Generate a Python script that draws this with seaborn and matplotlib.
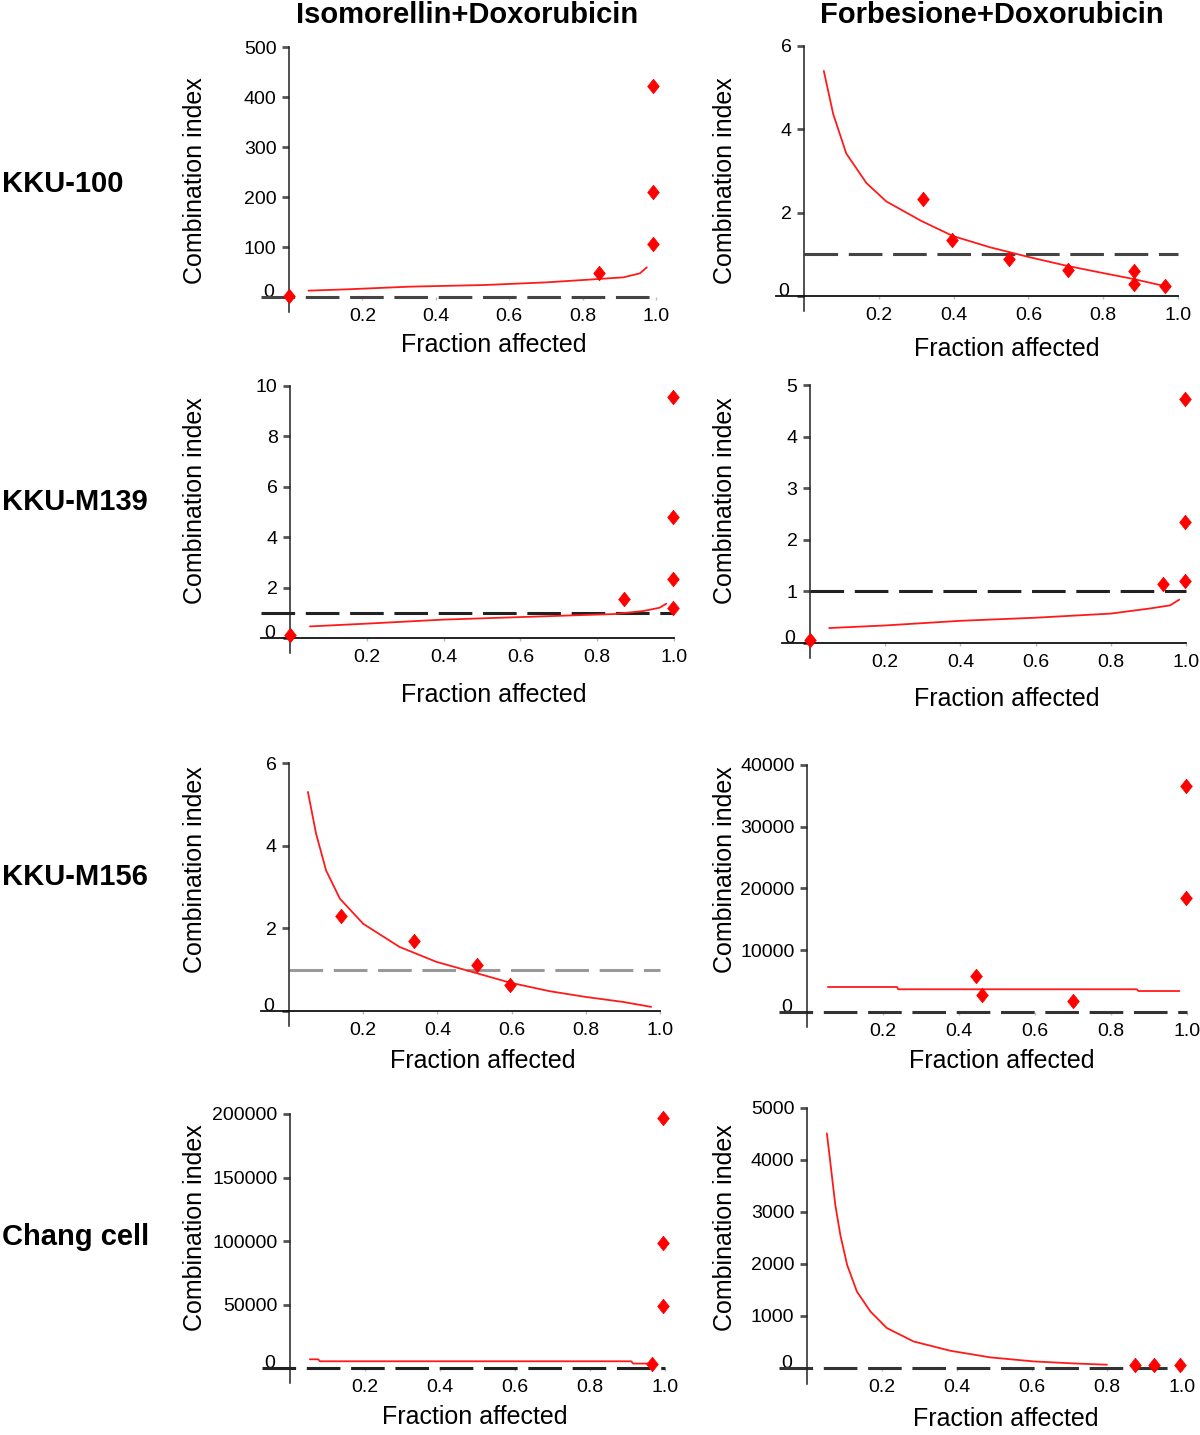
import matplotlib
matplotlib.use("Agg")
import matplotlib.pyplot as plt
import matplotlib.transforms as mtransforms
import seaborn as sns

sns.set_theme(style="ticks")
plt.rcParams["font.family"] = ["Liberation Sans", "DejaVu Sans"]
plt.rcParams["text.color"] = "black"
plt.rcParams["axes.labelcolor"] = "black"

W, H = 1200, 1435

col_titles = ["Isomorellin+Doxorubicin", "Forbesione+Doxorubicin"]
row_labels = ["KKU-100", "KKU-M139", "KKU-M156", "Chang cell"]
x_ticks = [0.2, 0.4, 0.6, 0.8, 1.0]
x_tick_labels = ["0.2", "0.4", "0.6", "0.8", "1.0"]
ci_ref = 1.0

# KKU-100 / Isomorellin+Doxorubicin
iso100_fa = [0.0, 0.846, 0.993, 0.993, 0.993]
iso100_ci = [2, 49, 423, 210, 106]
iso100_curve_fa = [0.053, 0.157, 0.33, 0.534, 0.702, 0.802, 0.911, 0.956, 0.975]
iso100_curve_ci = [12.7, 15.3, 20.7, 24, 29.3, 34, 39.3, 47.3, 59.3]
iso100_yticks = [0, 100, 200, 300, 400, 500]

# KKU-100 / Forbesione+Doxorubicin
for100_fa = [0.317, 0.396, 0.548, 0.707, 0.882, 0.882, 0.964]
for100_ci = [2.32, 1.35, 0.90, 0.63, 0.59, 0.28, 0.25]
for100_curve_fa = [0.053, 0.078, 0.113, 0.167, 0.22, 0.314, 0.398, 0.497, 0.599, 0.70, 0.80, 0.88, 0.978]
for100_curve_ci = [5.40, 4.37, 3.42, 2.71, 2.27, 1.80, 1.44, 1.17, 0.94, 0.73, 0.55, 0.41, 0.21]
for100_yticks = [0, 2, 4, 6]

# KKU-M139 / Isomorellin+Doxorubicin
iso139_fa = [0.0, 0.87, 0.997, 0.997, 0.997, 0.997]
iso139_ci = [0.1, 1.54, 9.56, 4.80, 2.36, 1.21]
iso139_curve_fa = [0.052, 0.2, 0.4, 0.6, 0.8, 0.845, 0.92, 0.962, 0.98]
iso139_curve_ci = [0.46, 0.57, 0.73, 0.83, 0.93, 0.95, 1.07, 1.2, 1.36]
iso139_yticks = [0, 2, 4, 6, 8, 10]

# KKU-M139 / Forbesione+Doxorubicin
for139_fa = [0.0, 0.939, 0.998, 0.998, 0.998]
for139_ci = [0.06, 1.15, 4.73, 2.34, 1.20]
for139_curve_fa = [0.051, 0.2, 0.4, 0.6, 0.8, 0.905, 0.958, 0.982]
for139_curve_ci = [0.29, 0.34, 0.43, 0.49, 0.57, 0.67, 0.73, 0.84]
for139_yticks = [0, 1, 2, 3, 4, 5]

# KKU-M156 / Isomorellin+Doxorubicin
iso156_fa = [0.14, 0.338, 0.507, 0.597]
iso156_ci = [2.30, 1.69, 1.11, 0.64]
iso156_curve_fa = [0.051, 0.073, 0.10, 0.137, 0.20, 0.298, 0.397, 0.496, 0.594, 0.702, 0.80, 0.90, 0.976]
iso156_curve_ci = [5.30, 4.29, 3.40, 2.72, 2.11, 1.55, 1.19, 0.94, 0.69, 0.48, 0.34, 0.22, 0.10]
iso156_yticks = [0, 2, 4, 6]

# KKU-M156 / Forbesione+Doxorubicin
for156_fa = [0.446, 0.46, 0.70, 0.998, 0.998]
for156_ci = [5800, 2700, 1780, 36600, 18400]
for156_curve_fa = [0.055, 0.237, 0.24, 0.868, 0.872, 0.98]
for156_curve_ci = [4050, 4050, 3680, 3680, 3400, 3400]
for156_yticks = [0, 10000, 20000, 30000, 40000]

# Chang cell / Isomorellin+Doxorubicin
isochang_fa = [0.964, 0.995, 0.995, 0.995]
isochang_ci = [3500, 197000, 98500, 48600]
isochang_curve_fa = [0.053, 0.075, 0.08, 0.91, 0.915, 0.97]
isochang_curve_ci = [6850, 6850, 5300, 5300, 3500, 3500]
isochang_yticks = [0, 50000, 100000, 150000, 200000]

# Chang cell / Forbesione+Doxorubicin
forchang_fa = [0.874, 0.924, 0.994]
forchang_ci = [50, 50, 50]
forchang_curve_fa = [0.053, 0.062, 0.0755, 0.0889, 0.107, 0.133, 0.169, 0.213, 0.284, 0.382, 0.489, 0.604, 0.711, 0.80]
forchang_curve_ci = [4510, 3966, 3134, 2559, 1983, 1471, 1087, 768, 511, 332, 204, 127, 88, 63]
forchang_yticks = [0, 1000, 2000, 3000, 4000, 5000]

panels = [
    (iso100_fa, iso100_ci, iso100_curve_fa, iso100_curve_ci, iso100_yticks),
    (for100_fa, for100_ci, for100_curve_fa, for100_curve_ci, for100_yticks),
    (iso139_fa, iso139_ci, iso139_curve_fa, iso139_curve_ci, iso139_yticks),
    (for139_fa, for139_ci, for139_curve_fa, for139_curve_ci, for139_yticks),
    (iso156_fa, iso156_ci, iso156_curve_fa, iso156_curve_ci, iso156_yticks),
    (for156_fa, for156_ci, for156_curve_fa, for156_curve_ci, for156_yticks),
    (isochang_fa, isochang_ci, isochang_curve_fa, isochang_curve_ci, isochang_yticks),
    (forchang_fa, forchang_ci, forchang_curve_fa, forchang_curve_ci, forchang_yticks),
]

# pixel layout: origin x, px per unit fa, origin y, top tick y, ylabel (x, y), xlabel (x, y),
# dashed line start, solid x axis, dashed colour
layout = [
    (289, 367, 297, 47, (207, 181), (494, 333), -0.075, False, "#444444"),
    (804, 374, 296, 46, (737, 181), (1007, 337), 0.0, True, "#444444"),
    (290, 384, 638, 386, (207, 501), (494, 683), -0.075, True, "#222222"),
    (810, 376, 643, 385, (737, 501), (1007, 687), 0.0, True, "#222222"),
    (289, 371, 1011, 763, (207, 870), (483, 1049), 0.0, True, "#999999"),
    (807, 380, 1012, 765, (737, 870), (1002, 1049), -0.075, False, "#333333"),
    (290, 375, 1368, 1114, (207, 1228), (475, 1405), -0.075, False, "#222222"),
    (807, 375, 1368, 1108, (737, 1228), (1006, 1407), -0.075, False, "#333333"),
]

diamond = [(0, 1), (0.8, 0), (0, -1), (-0.8, 0), (0, 1)]

fig = plt.figure(figsize=(W / 100, H / 100), dpi=100)
lift = mtransforms.ScaledTranslation(-2 / 72, 5 / 72, fig.dpi_scale_trans)

for (fa, ci, cfa, cci, yticks), lay in zip(panels, layout):
    x0, unit, y0, ytop, ylab, xlab, dash_start, solid, dash_col = lay
    top = yticks[-1]
    span = y0 - ytop
    pad = 0.06 * span
    left = x0 - 0.075 * unit
    right = x0 + 1.03 * unit
    ax = fig.add_axes([left / W, 1 - (y0 + pad) / H, (right - left) / W, (span + pad) / H])
    ax.set_xlim(-0.075, 1.03)
    ax.set_ylim(-0.06 * top, top)
    ax.patch.set_alpha(0)

    ax.plot([dash_start, 1.0], [ci_ref, ci_ref], color=dash_col, lw=2.2,
            ls=(0, (11, 3.5)), zorder=1)
    sns.lineplot(x=cfa, y=cci, ax=ax, color="#ff1a1a", lw=1.3, estimator=None,
                 sort=False, zorder=2)
    sns.scatterplot(x=fa, y=ci, ax=ax, color="#ff0000", marker=diamond, s=110,
                    edgecolor="#ff0000", linewidth=0.5, zorder=3, clip_on=False)

    for s in ["top", "right"]:
        ax.spines[s].set_visible(False)
    ax.spines["left"].set_position(("data", 0))
    ax.spines["left"].set_color("#222222")
    ax.spines["left"].set_linewidth(1.1)
    ax.spines["bottom"].set_position(("data", 0))
    ax.spines["bottom"].set_bounds(-0.075, 1.0)
    ax.spines["bottom"].set_color("#111111")
    ax.spines["bottom"].set_linewidth(1.3)
    ax.spines["bottom"].set_visible(solid)

    ax.set_yticks(yticks)
    ax.set_yticklabels([str(v) for v in yticks])
    ax.set_xticks(x_ticks)
    ax.set_xticklabels(x_tick_labels)
    ax.tick_params(axis="y", direction="out", length=5, width=2, color="#555555",
                   labelsize=14, pad=4, labelcolor="black")
    ax.tick_params(axis="x", direction="out", length=2, width=1, color="#bbbbbb",
                   labelsize=14, pad=6, labelcolor="black")
    zero_label = ax.get_yticklabels()[0]
    zero_label.set_transform(zero_label.get_transform() + lift)

    ax.set_ylabel("Combination index", fontsize=18, color="black")
    ax.yaxis.set_label_coords(ylab[0] / W, 1 - ylab[1] / H, transform=fig.transFigure)
    ax.set_xlabel("Fraction affected", fontsize=18, color="black")
    ax.xaxis.set_label_coords(xlab[0] / W, 1 - xlab[1] / H, transform=fig.transFigure)

fig.text(467 / W, 1 - 15 / H, col_titles[0], ha="center", va="center",
         fontsize=21, fontweight="bold", color="black")
fig.text(992 / W, 1 - 15 / H, col_titles[1], ha="center", va="center",
         fontsize=21, fontweight="bold", color="black")
for lab, yc in zip(row_labels, [184, 502, 877, 1237]):
    fig.text(2 / W, 1 - yc / H, lab, ha="left", va="center", fontsize=21,
             fontweight="bold", color="black")

fig.savefig("out.png", dpi=100, facecolor="white")
